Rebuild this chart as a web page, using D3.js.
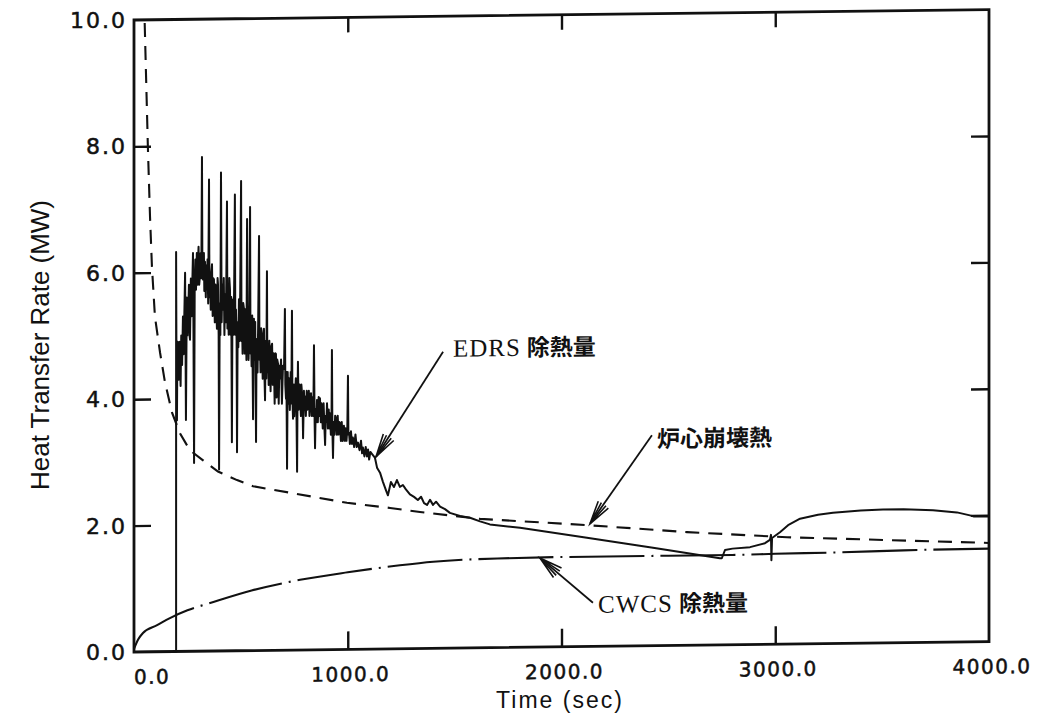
<!DOCTYPE html>
<html>
<head>
<meta charset="utf-8">
<script src="https://cdn.jsdelivr.net/npm/d3@7"></script>
<style>
  body{margin:0;background:#fff}
  svg{display:block}
</style>
</head>
<body>
<svg id="chart" width="1040" height="720" viewBox="0 0 1040 720"></svg>
<script>
// ---- data ----
const xTicks = [0, 1000, 2000, 3000, 4000];
const xTickLabels = ['0.0', '1000.0', '2000.0', '3000.0', '4000.0'];
const yTicks = [0, 2, 4, 6, 8, 10];
const yTickLabels = ['0.0', '2.0', '4.0', '6.0', '8.0', '10.0'];

// core decay heat (dashed)
const decayTime = [50, 65, 75, 84, 98, 122, 145, 178, 215, 262, 323, 393, 482, 557, 650, 730, 996, 1198, 1338, 1619, 2119, 2587, 3055, 4000];
const decayHeat = [9.95, 7.98, 6.88, 6.09, 5.3, 4.73, 4.26, 3.78, 3.45, 3.18, 3.02, 2.84, 2.70, 2.60, 2.54, 2.49, 2.32, 2.23, 2.16, 2.04, 1.92, 1.79, 1.69, 1.56];

// CWCS heat removal (dash-dot)
const cwcsTime = [0, 20, 42, 108, 168, 250, 356, 550, 777, 1000, 1244, 1400, 1700, 2000, 2500, 2800, 3000, 3300, 3600, 4000];
const cwcsHeat = [0.05, 0.2, 0.3, 0.42, 0.53, 0.65, 0.76, 0.95, 1.11, 1.22, 1.32, 1.37, 1.41, 1.42, 1.42, 1.42, 1.43, 1.44, 1.46, 1.47];

// EDRS heat removal (solid, noisy early part)
const edrsTime = [0, 197, 197, 199, 201, 203, 206, 209, 212, 215, 218, 221, 225, 229, 232, 234, 237, 239, 241, 243,
  247, 250, 253, 257, 260, 262, 266, 269, 271, 274, 276, 278, 281, 284, 287, 290, 294, 297, 299, 302,
  305, 309, 312, 315, 318, 320, 323, 327, 329, 332, 336, 338, 341, 344, 347, 351, 353, 355, 359, 362,
  365, 368, 371, 374, 378, 381, 384, 388, 391, 393, 396, 398, 401, 404, 407, 410, 413, 416, 420, 423,
  426, 430, 432, 435, 437, 440, 443, 446, 449, 452, 455, 458, 460, 463, 466, 469, 472, 474, 477, 480,
  482, 485, 488, 491, 494, 497, 501, 503, 505, 508, 511, 515, 518, 521, 524, 526, 529, 531, 533, 536,
  540, 543, 545, 547, 550, 553, 557, 559, 561, 564, 567, 571, 573, 575, 578, 581, 585, 587, 589, 592,
  595, 599, 602, 605, 608, 610, 613, 616, 619, 622, 624, 627, 630, 633, 636, 639, 642, 646, 649, 652,
  655, 658, 661, 664, 667, 670, 674, 677, 680, 683, 688, 692, 697, 702, 706, 708, 711, 713, 716, 719,
  722, 725, 729, 733, 736, 739, 741, 744, 748, 750, 753, 757, 760, 763, 765, 767, 770, 774, 777, 781,
  783, 786, 789, 791, 795, 797, 800, 804, 808, 811, 814, 818, 821, 825, 828, 832, 836, 839, 842, 845,
  847, 850, 853, 856, 860, 864, 867, 870, 874, 877, 879, 883, 887, 891, 894, 897, 900, 903, 907, 911,
  914, 917, 921, 924, 926, 928, 931, 934, 938, 941, 945, 949, 953, 957, 961, 964, 968, 972, 976, 979,
  982, 986, 990, 994, 998, 1001, 1003, 1006, 1010, 1015, 1020, 1024, 1030, 1036, 1042, 1048, 1055, 1062, 1067, 1071,
  1078, 1084, 1090, 1095, 1100, 1106, 1113, 1127, 1137, 1151, 1165, 1179, 1188, 1202, 1216, 1230, 1244, 1258, 1272, 1291,
  1310, 1328, 1343, 1357, 1371, 1385, 1399, 1413, 1432, 1455, 1478, 1525, 1572, 1619, 1665, 1806, 2119, 2428, 2741, 2750,
  2765, 2800, 2882, 2952, 2975, 2980, 2982, 2985, 3022, 3060, 3116, 3200, 3270, 3400, 3504, 3600, 3738, 3850, 3911, 3930, 4000];
const edrsHeat = [0, 0, 6.32, 4.2, 3.66, 4.9, 4.61, 4.3, 4.9, 4.69, 4.2, 5.0, 4.53, 5.3, 4.7, 5.09, 5.6, 5.99, 4.9, 3.66,
  5.6, 5.0, 5.25, 5.8, 5.0, 4.93, 5.9, 5.3, 5.56, 6.0, 6.3, 5.2, 2.98, 5.8, 6.2, 5.72, 6.3, 5.8, 6.12, 6.4,
  5.8, 5.96, 6.3, 5.9, 7.82, 6.0, 5.88, 6.3, 5.7, 6.16, 5.6, 6.1, 5.72, 6.2, 5.5, 7.46, 5.6, 5.96, 5.4, 6.0,
  6.12, 5.3, 5.9, 5.88, 5.2, 5.8, 5.56, 5.1, 5.9, 5.8, 5.0, 2.87, 5.5, 5.0, 7.57, 5.2, 5.8, 5.4, 5.9, 5.0,
  5.64, 5.2, 5.9, 7.11, 5.1, 5.56, 5.0, 5.9, 5.72, 5.0, 5.6, 3.3, 5.0, 5.56, 5.0, 5.9, 7.22, 5.0, 5.4, 4.9,
  3.14, 5.2, 4.8, 5.56, 4.9, 5.7, 7.43, 4.9, 5.25, 4.7, 5.5, 5.4, 4.7, 5.4, 5.09, 4.6, 6.83, 4.8, 5.25, 4.6,
  5.5, 7.02, 4.7, 5.09, 4.5, 5.3, 3.66, 4.8, 5.25, 4.6, 5.2, 3.3, 4.7, 4.93, 4.4, 5.2, 6.56, 4.6, 4.93, 4.4,
  5.1, 4.85, 4.3, 5.0, 5.09, 4.4, 3.96, 4.9, 4.3, 6.0, 4.4, 4.77, 4.2, 4.9, 4.61, 4.1, 4.8, 4.85, 4.2, 4.7,
  4.45, 3.9, 4.7, 4.69, 4.0, 4.6, 4.53, 3.9, 4.5, 4.3, 4.6, 3.9, 4.5, 4.45, 5.4, 4.2, 3.98, 4.4, 2.87, 4.4,
  3.9, 4.3, 3.8, 4.4, 3.9, 5.37, 4.0, 3.66, 4.2, 3.7, 3.98, 4.3, 3.8, 2.82, 4.0, 4.56, 3.8, 4.2, 3.98, 3.7,
  4.2, 4.06, 3.8, 3.35, 4.1, 3.8, 4.01, 3.7, 4.1, 3.8, 3.9, 4.1, 3.7, 4.0, 4.06, 3.7, 4.0, 3.7, 4.82, 3.6,
  3.19, 3.8, 3.6, 3.95, 3.6, 4.0, 3.7, 3.98, 3.6, 3.9, 3.82, 3.5, 3.9, 3.5, 3.24, 3.7, 3.6, 3.9, 3.5, 3.8,
  3.5, 3.74, 3.4, 3.6, 4.74, 3.5, 3.03, 3.6, 3.4, 3.7, 3.66, 3.4, 3.7, 3.4, 3.6, 3.58, 3.3, 3.6, 3.3, 3.5,
  3.54, 3.3, 3.5, 3.3, 3.5, 4.33, 3.4, 3.43, 3.25, 3.45, 3.25, 3.35, 3.2, 3.4, 3.2, 3.27, 3.15, 3.3, 3.1, 3.19,
  3.05, 3.2, 3.05, 3.16, 3.0, 3.12, 3.09, 3.03, 2.87, 2.79, 2.64, 2.51, 2.43, 2.64, 2.56, 2.67, 2.56, 2.59, 2.52, 2.44,
  2.4, 2.35, 2.4, 2.3, 2.27, 2.35, 2.27, 2.32, 2.24, 2.2, 2.14, 2.09, 2.06, 2.0, 1.95, 1.89, 1.72, 1.55, 1.37, 1.37,
  1.50, 1.52, 1.54, 1.6, 1.65, 1.73, 1.33, 1.68, 1.77, 1.88, 1.98, 2.04, 2.07, 2.1, 2.11, 2.11, 2.09, 2.05, 2.0, 1.98, 1.98];

// ---- drawing ----
(function () {
  const svg = d3.select('#chart');
  const mLeft = 134, mRight = 989, mTop = 20, mBottom = 652;
  const skew = -0.7;   // the scan is slightly tilted

  const x = d3.scaleLinear().domain([0, 4000]).range([mLeft, mRight]);
  const y = d3.scaleLinear().domain([0, 10]).range([mBottom, mTop]);

  const plot = svg.append('g')
    .attr('transform', `translate(${mLeft},0) skewY(${skew}) translate(${-mLeft},0)`);

  const ink = '#111';

  // frame
  plot.append('rect')
    .attr('x', mLeft).attr('y', mTop)
    .attr('width', mRight - mLeft).attr('height', mBottom - mTop)
    .attr('fill', 'none').attr('stroke', ink).attr('stroke-width', 2.8);

  // inward ticks on all four sides
  const inner = xTicks.slice(1, -1), innerY = yTicks.slice(1, -1);
  plot.append('g').attr('transform', `translate(0,${mBottom})`)
    .call(d3.axisTop(x).tickValues(inner).tickSize(18).tickFormat(''))
    .call(g => g.select('.domain').remove());
  plot.append('g').attr('transform', `translate(0,${mTop})`)
    .call(d3.axisBottom(x).tickValues(inner).tickSize(15).tickFormat(''))
    .call(g => g.select('.domain').remove());
  plot.append('g').attr('transform', `translate(${mLeft},0)`)
    .call(d3.axisRight(y).tickValues(innerY).tickSize(17).tickFormat(''))
    .call(g => g.select('.domain').remove());
  plot.append('g').attr('transform', `translate(${mRight},0)`)
    .call(d3.axisLeft(y).tickValues(innerY).tickSize(18).tickFormat(''))
    .call(g => g.select('.domain').remove());
  plot.selectAll('.tick line').attr('stroke', ink).attr('stroke-width', 2.4);

  // x tick labels (follow the tilt)
  plot.append('g').selectAll('text').data(xTicks).enter().append('text')
    .attr('x', (d, i) => i === 0 ? x(d) : x(d) + 3)
    .attr('y', mBottom + 32)
    .attr('text-anchor', (d, i) => i === 0 ? 'start' : 'middle')
    .attr('font-family', 'DejaVu Sans, sans-serif')
    .attr('font-size', 20).attr('letter-spacing', 1.5)
    .attr('fill', ink).attr('stroke', ink).attr('stroke-width', 0.5)
    .text((d, i) => xTickLabels[i]);

  // y tick labels
  svg.append('g').selectAll('text').data(yTicks).enter().append('text')
    .attr('x', 127)
    .attr('y', d => y(d) + 8)
    .attr('text-anchor', 'end')
    .attr('font-family', 'DejaVu Sans, sans-serif')
    .attr('font-size', 22).attr('letter-spacing', 2)
    .attr('fill', ink).attr('stroke', ink).attr('stroke-width', 0.5)
    .text((d, i) => yTickLabels[i]);

  // axis titles
  svg.append('text')
    .attr('x', 560).attr('y', 708)
    .attr('text-anchor', 'middle')
    .attr('font-family', 'Liberation Sans, Arial, sans-serif')
    .attr('font-size', 23).attr('letter-spacing', 2)
    .attr('fill', ink)
    .text('Time (sec)');
  svg.append('text')
    .attr('transform', 'translate(49,345) rotate(-90)')
    .attr('text-anchor', 'middle')
    .attr('font-family', 'Liberation Sans, Arial, sans-serif')
    .attr('font-size', 25)
    .attr('textLength', 290).attr('lengthAdjust', 'spacingAndGlyphs')
    .attr('fill', ink)
    .text('Heat Transfer Rate (MW)');

  // curves
  const line = d3.line().x(d => x(d[0])).y(d => y(d[1]));
  const curves = plot.append('g').attr('fill', 'none').attr('stroke', ink);

  curves.append('path')
    .attr('d', line(d3.zip(decayTime, decayHeat)))
    .attr('stroke-width', 2.1).attr('stroke-dasharray', '14,9');

  curves.append('path')
    .attr('d', d3.line().x(d => x(d[0])).y(d => y(d[1])).curve(d3.curveMonotoneX)(d3.zip(cwcsTime, cwcsHeat)))
    .attr('stroke-width', 2.1).attr('stroke-dasharray', '75,7,2,7');

  curves.append('path')
    .attr('d', line(d3.zip(edrsTime, edrsHeat)))
    .attr('stroke-width', 2).attr('stroke-linejoin', 'round');

  // annotations, placed in data units
  const notes = [
    { latin: 'EDRS', jp: '除熱量',    at: [1492, 4.61], tail: [1446, 4.69], tip: [1132, 3.04] },
    { latin: '',     jp: '炉心崩壊熱', at: [2447, 3.14], tail: [2423, 3.33], tip: [2133, 1.94] },
    { latin: 'CWCS', jp: '除熱量',    at: [2171, 0.53], tail: [2147, 0.69], tip: [1899, 1.41] }
  ];

  const ann = plot.append('g');
  notes.forEach(n => {
    const x1 = x(n.tail[0]), y1 = y(n.tail[1]), x2 = x(n.tip[0]), y2 = y(n.tip[1]);
    ann.append('line')
      .attr('x1', x1).attr('y1', y1).attr('x2', x2).attr('y2', y2)
      .attr('stroke', ink).attr('stroke-width', 1.8);
    const ang = Math.atan2(y1 - y2, x1 - x2);
    const len = 24, spread = 0.26;
    const barb = s => [x2 + len * Math.cos(ang + s), y2 + len * Math.sin(ang + s)];
    const b1 = barb(spread), b2 = barb(-spread);
    const c1 = barb(spread * 0.45), c2 = barb(-spread * 0.45);
    ann.append('path')
      .attr('d', `M${b1}L${x2},${y2}L${b2}M${c1}L${x2},${y2}L${c2}`)
      .attr('fill', 'none').attr('stroke', ink).attr('stroke-width', 1.6);

    const t = ann.append('text')
      .attr('x', x(n.at[0])).attr('y', y(n.at[1]))
      .attr('fill', ink);
    if (n.latin) {
      t.append('tspan')
        .attr('font-family', 'Liberation Serif, Times New Roman, serif')
        .attr('font-size', 25).attr('letter-spacing', 1)
        .text(n.latin);
    }
    t.append('tspan')
      .attr('dx', n.latin ? 6 : 0)
      .attr('font-family', 'Noto Sans CJK JP, sans-serif')
      .attr('font-size', 23).attr('font-weight', 700)
      .text(n.jp);
  });
})();
</script>
</body>
</html>
